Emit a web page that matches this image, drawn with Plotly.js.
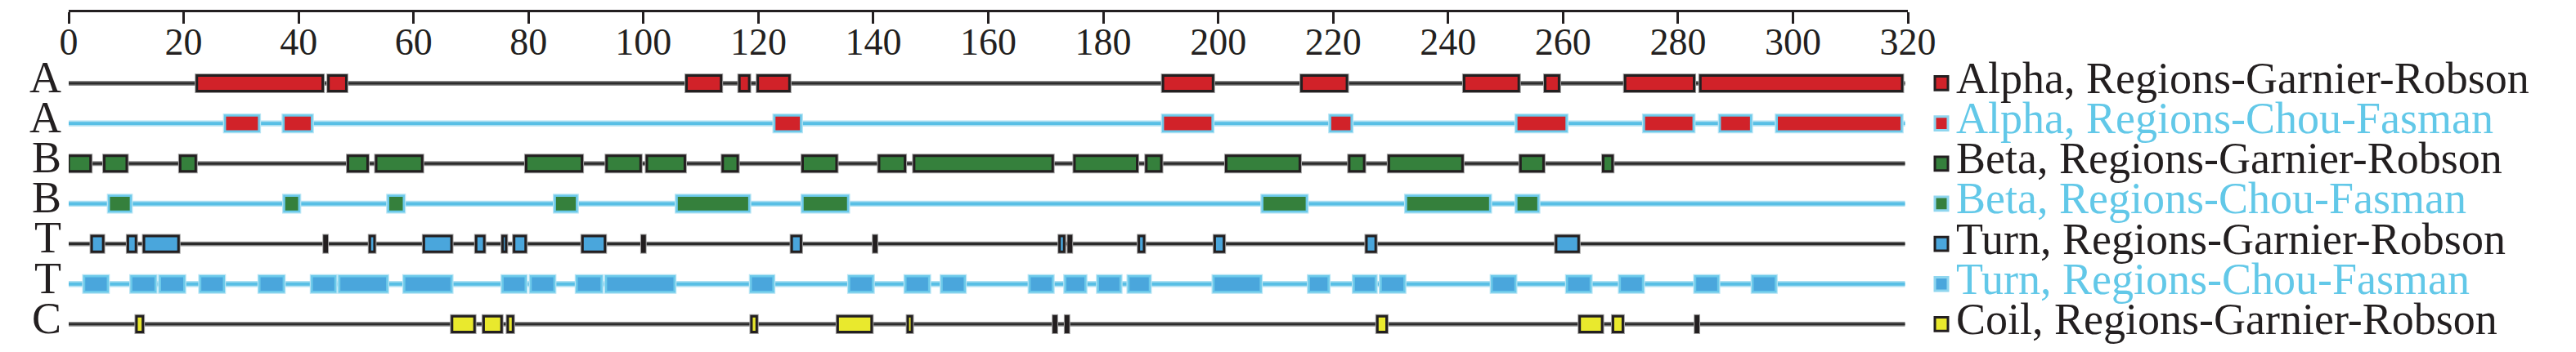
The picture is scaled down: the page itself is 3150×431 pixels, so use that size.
<!DOCTYPE html>
<html>
<head>
<meta charset="utf-8">
<script src="https://cdn.plot.ly/plotly-3.0.1.min.js"></script>
<style>
  html, body { margin: 0; padding: 0; background: #ffffff; }
  #chart { width: 3150px; height: 431px; }
</style>
</head>
<body>
<div id="chart"></div>
<script>
// ---------------- DATA ----------------
const seqEnd = 319.5;
const rowLabels = ['A', 'A', 'B', 'B', 'T', 'T', 'C'];
const tickValues = [0, 20, 40, 60, 80, 100, 120, 140, 160, 180, 200, 220, 240, 260, 280, 300, 320];
const tickLabels = ['0', '20', '40', '60', '80', '100', '120', '140', '160', '180', '200', '220', '240', '260', '280', '300', '320'];
const seriesNames = [
  'Alpha, Regions-Garnier-Robson',
  'Alpha, Regions-Chou-Fasman',
  'Beta, Regions-Garnier-Robson',
  'Beta, Regions-Chou-Fasman',
  'Turn, Regions-Garnier-Robson',
  'Turn, Regions-Chou-Fasman',
  'Coil, Regions-Garnier-Robson'
];
const methods = ['GR', 'CF', 'GR', 'CF', 'GR', 'CF', 'GR'];

const alphaGR = [[22.3,44.2],[45.2,48.3],[107.5,113.5],[116.7,118.4],[119.9,125.4],[190.4,199.1],[214.5,222.4],[242.8,252.3],[256.9,259.3],[270.8,282.8],[283.9,319]];
const alphaCF = [[27.2,33.1],[37.4,42.3],[122.8,127.4],[190.4,199],[219.5,223.2],[251.9,260.6],[274.1,282.7],[287.3,292.7],[297.2,318.9]];
const betaGR = [[0,3.8],[6.2,10.1],[19.4,22.1],[48.6,52],[53.5,61.5],[79.6,89.3],[93.6,99.5],[100.6,107.2],[113.8,116.4],[127.7,133.6],[141,145.5],[147.1,171.2],[175,185.9],[187.5,190.1],[201.4,214.2],[222.8,225.4],[229.7,242.5],[252.6,256.6],[267,268.6]];
const betaCF = [[7,10.8],[37.5,40.1],[55.6,58.3],[84.6,88.4],[105.8,118.4],[127.7,135.6],[207.7,215.4],[232.7,247.3],[251.9,255.7]];
const turnGR = [[4,6],[10.3,11.7],[13.1,19.1],[44.5,44.9],[52.4,53.2],[61.8,66.6],[70.9,72.3],[75.5,76.1],[77.5,79.5],[89.4,93.3],[99.8,100.2],[125.8,127.4],[140.1,140.5],[172.4,173.2],[174,174.4],[186.2,187.1],[199.4,201],[225.8,227.4],[258.8,262.7]];
const turnCF = [[2.7,6.8],[10.9,15.1],[15.9,20.1],[22.9,27],[33.2,37.4],[42.3,46.4],[47.1,55.4],[58.4,66.6],[75.5,79.5],[80.4,84.5],[88.4,92.7],[93.5,105.4],[118.7,122.6],[135.8,139.9],[145.6,149.7],[151.9,155.9],[167.2,171.2],[173.4,176.9],[179.1,183],[184.4,188.1],[199.2,207.4],[215.8,219.2],[223.6,227.4],[228.3,232.4],[247.6,251.7],[260.7,264.8],[269.9,273.9],[283,287],[293,297]];
const coilGR = [[11.8,12.9],[66.7,70.6],[72.2,75.3],[76.4,77.3],[118.8,119.7],[133.8,139.7],[146,146.7],[171.4,171.8],[173.5,173.9],[227.7,229.3],[262.9,266.8],[268.7,270.4],[283.1,283.5]];

const allSegments = [alphaGR, alphaCF, betaGR, betaCF, turnGR, turnCF, coilGR];

// ---------------- STYLE ----------------
const FONT = '"Liberation Serif", "Times New Roman", serif';
const INK = '#231f20';
const CYAN_TXT = '#62c8e8';
const fills = ['#d12229', '#d12229', '#35803c', '#35803c', '#4aa6dc', '#4aa6dc', '#e9e92d'];
const sty = {
  GR: { lineHalo: '#8c8c8c', lineCore: '#2b2b2b', haloW: 0.12, coreW: 0.06,
        barHalo: '#a3a3a3', barHaloW: 5, barEdge: INK, barEdgeW: 3, text: INK },
  CF: { lineHalo: '#aee0f2', lineCore: '#58bfe5', haloW: 0.15, coreW: 0.08,
        barHalo: '#b5e4f4', barHaloW: 5, barEdge: '#6cc9ea', barEdgeW: 2.5, text: CYAN_TXT }
};
const BAR_W = 0.39;
const TICK_LABEL_ROW = -0.936;   // vertical slot (in row units) of the scale labels under the top axis line

const traces = [];
allSegments.forEach((segs, i) => {
  const s = sty[methods[i]];
  traces.push({ type: 'bar', orientation: 'h', y: [i], base: [0], x: [seqEnd], width: [s.haloW],
    marker: { color: s.lineHalo, line: { width: 0 } }, hoverinfo: 'skip', showlegend: false });
  traces.push({ type: 'bar', orientation: 'h', y: [i], base: [0], x: [seqEnd], width: [s.coreW],
    marker: { color: s.lineCore, line: { width: 0 } }, hoverinfo: 'skip', showlegend: false });
  const ys = segs.map(() => i);
  const bases = segs.map(d => d[0]);
  const lens = segs.map(d => d[1] - d[0]);
  const widths = segs.map(() => BAR_W);
  traces.push({ type: 'bar', orientation: 'h', y: ys, base: bases, x: lens, width: widths,
    marker: { color: s.barHalo, line: { color: s.barHalo, width: s.barHaloW } },
    hoverinfo: 'skip', showlegend: false });
  traces.push({ type: 'bar', orientation: 'h', y: ys, base: bases, x: lens, width: widths,
    name: seriesNames[i],
    marker: { color: fills[i], line: { color: s.barEdge, width: s.barEdgeW } },
    showlegend: false });
});

// scale numbers below the top axis line
traces.push({ type: 'scatter', mode: 'text', x: tickValues, y: tickValues.map(() => TICK_LABEL_ROW),
  text: tickLabels, textposition: 'middle center', cliponaxis: false,
  textfont: { family: FONT, size: 46, color: INK }, hoverinfo: 'skip', showlegend: false });

// legend drawn manually to match the tight row spacing
const annotations = [];
const shapes = [];
const pxL = 84, pxR = 2333, plotW = pxR - pxL;
const pxT = 13, pxB = 420;
const toPaperX = px => (px - pxL) / plotW;
seriesNames.forEach((nm, i) => {
  const s = sty[methods[i]];
  annotations.push({ xref: 'paper', yref: 'y', x: toPaperX(2391), y: i, xanchor: 'left', yanchor: 'middle',
    text: nm, showarrow: false, yshift: 6, borderpad: 0, font: { family: FONT, size: 54, color: s.text } });
  shapes.push({ type: 'rect', xref: 'paper', yref: 'y', x0: toPaperX(2366), x1: toPaperX(2382),
    y0: i - 0.17, y1: i + 0.17, fillcolor: fills[i],
    line: { color: methods[i] === 'GR' ? INK : '#8fd6ef', width: 3 } });
});

const layout = {
  width: 3150, height: 431,
  margin: { l: pxL, r: 3150 - pxR, t: pxT, b: 431 - pxB },
  paper_bgcolor: '#ffffff', plot_bgcolor: '#ffffff',
  barmode: 'overlay',
  showlegend: false,
  font: { family: FONT, color: INK, size: 46 },
  xaxis: {
    // axis line along the top edge, ticks hanging downward
    anchor: 'free', position: 1, side: 'bottom',
    range: [0, 320], tickvals: tickValues,
    showline: true, linecolor: INK, linewidth: 3,
    ticks: 'outside', ticklen: 14, tickwidth: 3, tickcolor: INK,
    showticklabels: false,
    showgrid: false, zeroline: false, fixedrange: true, automargin: false
  },
  yaxis: {
    range: [6.47, -1.81], tickvals: [0, 1, 2, 3, 4, 5, 6], ticktext: rowLabels,
    tickfont: { family: FONT, size: 54, color: INK },
    ticks: '', showline: false, showgrid: false, zeroline: false,
    ticklabelstandoff: 8, ticklabelshift: 8, fixedrange: true, automargin: false
  },
  annotations: annotations,
  shapes: shapes
};

Plotly.newPlot('chart', traces, layout, { displayModeBar: false, staticPlot: true });
</script>
</body>
</html>
